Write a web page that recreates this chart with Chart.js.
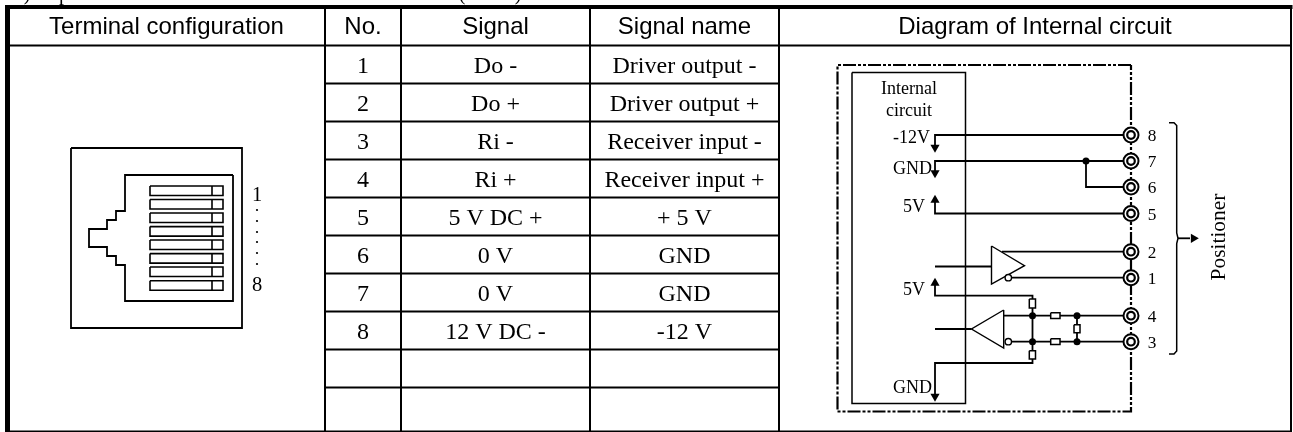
<!DOCTYPE html>
<html>
<head>
<meta charset="utf-8">
<title>Terminal configuration</title>
<script src="https://cdn.jsdelivr.net/npm/chart.js@4"></script>
<style>
  html, body { margin: 0; padding: 0; background: #fff; overflow: hidden; }
  canvas { display: block; }
</style>
</head>
<body>
<canvas id="chart" width="1293" height="432"></canvas>
<script>
// table text
const headers = ['Terminal configuration', 'No.', 'Signal', 'Signal name', 'Diagram of Internal circuit'];
const pinNumbers = ['1', '2', '3', '4', '5', '6', '7', '8'];
const signals = ['Do -', 'Do +', 'Ri -', 'Ri +', '5 V DC +', '0 V', '0 V', '12 V DC -'];
const signalNames = ['Driver output -', 'Driver output +', 'Receiver input -', 'Receiver input +', '+ 5 V', 'GND', 'GND', '-12 V'];

// table rules
const columnEdges = [10, 325, 401, 590, 779, 1291];
const rowEdges = [45.5, 83.5, 121.5, 159.5, 197.5, 235.5, 273.5, 311.5, 349.5, 387.5];

// the line above the table is cut off at the page edge, only these tails show
const cutOffTails = [[')', 27], ['p', 64], ['(', 462], [')', 518]];

// connector drawing
const connectorOuter = [[71, 148], [242, 148], [242, 328], [71, 328], [71, 148]];
const connectorInner = [[233, 175], [125, 175], [125, 211], [116, 211], [116, 220], [107, 220], [107, 229], [89, 229],
  [89, 247], [107, 247], [107, 256], [116, 256], [116, 265], [125, 265], [125, 301], [233, 301], [233, 175]];
const contactTops = [186, 199.5, 213, 226.6, 240, 253.6, 267, 280.7];
const connectorDots = [210, 221, 232, 242, 253, 264];

// circuit pins, top to bottom
const circuitPins = ['8', '7', '6', '5', '2', '1', '4', '3'];
const circuitPinY = [135, 161, 187, 213.5, 251.7, 277.7, 315.7, 341.7];

// circuit traces
const shieldBox = [[1131, 65], [837.5, 65], [837.5, 411.5], [1131, 411.5], [1131, 65]];
const internalBox = [[852, 72.5], [965.5, 72.5], [965.5, 403.5], [852, 403.5], [852, 72.5]];
const traces = [
  [[935, 148], [935, 135], [1131, 135]],
  [[935, 174], [935, 161], [1131, 161]],
  [[1086, 161], [1086, 187], [1131, 187]],
  [[935, 200], [935, 213.5], [1131, 213.5]],
  [[935, 266.5], [991, 266.5]],
  [[1002, 251.7], [1131, 251.7]],
  [[1011, 277.7], [1131, 277.7]],
  [[935, 283], [935, 295.7], [1032.5, 295.7], [1032.5, 299]],
  [[1032.5, 308], [1032.5, 350.7]],
  [[1032.5, 359], [1032.5, 363], [935, 363], [935, 397]],
  [[935, 329], [971.5, 329]],
  [[1003.5, 315.7], [1050.5, 315.7]],
  [[1060, 315.7], [1131, 315.7]],
  [[1011, 341.7], [1050.5, 341.7]],
  [[1060, 341.7], [1131, 341.7]],
  [[1077, 315.7], [1077, 324.5]],
  [[1077, 332.7], [1077, 341.7]]
];
const driverTriangle = [[991.5, 246], [1024.5, 265.7], [991.5, 284], [991.5, 246]];
const receiverTriangle = [[1003.7, 310], [971.5, 329], [1003.7, 348], [1003.7, 310]];
const resistors = [
  [1029.3, 299, 1035.5, 308],
  [1029.3, 350.7, 1035.5, 359],
  [1050.7, 312.8, 1060, 318.6],
  [1050.7, 338.8, 1060, 344.6],
  [1074, 324.7, 1080, 332.7]
];
const junctions = [[1086, 161], [1032.5, 315.7], [1032.5, 341.7], [1077, 315.7], [1077, 341.7]];
const inverters = [[1008.3, 277.7], [1008.3, 341.7]];
const arrowsDown = [[935, 147.5], [935, 173], [935, 396.5]];
const arrowsUp = [[935, 200], [935, 283]];
const arrowsRight = [[1193.5, 238.3]];
const bracket = [[1169, 122.7], [1174, 122.7], [1176.7, 125.5], [1176.7, 233], [1178, 238.3], [1176.7, 243.5], [1176.7, 351], [1174, 354], [1169, 354]];
const arrowStem = [[1178, 238.3], [1190, 238.3]];

// labels on the circuit
const circuitLabels = [
  ['Internal', 909, 94, 'center'],
  ['circuit', 909, 116, 'center'],
  ['-12V', 893, 143, 'left'],
  ['GND', 893, 174, 'left'],
  ['5V', 903, 212, 'left'],
  ['5V', 903, 295, 'left'],
  ['GND', 893, 392.7, 'left']
];

const SERIF = '"Liberation Serif"';
const SANS = '"Liberation Sans"';

const toPoints = (pts) => pts.map((p) => ({ x: p[0], y: p[1] }));
const datasets = [];

function addLine(pts, width, dash) {
  datasets.push({
    data: toPoints(pts),
    showLine: true,
    borderColor: '#000',
    borderWidth: width,
    borderDash: dash || [],
    borderJoinStyle: 'miter',
    tension: 0,
    pointRadius: 0,
    fill: false
  });
}

function addPoints(pts, style, radius, fillColor, width, rotation) {
  datasets.push({
    data: toPoints(pts),
    showLine: false,
    pointStyle: style,
    pointRadius: radius,
    pointBackgroundColor: fillColor,
    pointBorderColor: '#000',
    pointBorderWidth: width,
    pointRotation: rotation || 0
  });
}

const boxOf = (b) => [[b[0], b[1]], [b[2], b[1]], [b[2], b[3]], [b[0], b[3]], [b[0], b[1]]];

// table frame
addLine([[7.5, 5], [7.5, 432]], 5);
addLine([[5, 7], [1292.5, 7]], 4);
addLine([[10, 431.2], [1292, 431.2]], 1.6);
addLine([[1291, 5], [1291, 432]], 2);
addLine([[10, rowEdges[0]], [1291, rowEdges[0]]], 2);
columnEdges.slice(1, 5).forEach((x) => addLine([[x, 7], [x, 431]], 2));
rowEdges.slice(1).forEach((y) => addLine([[columnEdges[1], y], [columnEdges[4], y]], 2));

// connector
addLine(connectorOuter, 1.8);
addLine(connectorInner, 1.8);
contactTops.forEach((y) => {
  addLine(boxOf([150, y, 223, y + 9.5]), 1.6);
  addLine([[212, y], [212, y + 9.5]], 1.6);
});
addPoints(connectorDots.map((y) => [257, y]), 'circle', 1.1, '#000', 0);

// circuit
addLine(shieldBox, 2.2, [13, 2, 3, 2, 3, 2]);
addLine(internalBox, 1.5);
traces.forEach((t) => addLine(t, 1.8));
addLine(driverTriangle, 1.4);
addLine(receiverTriangle, 1.4);
resistors.forEach((r) => addLine(boxOf(r), 1.5));
addLine(bracket, 1.5);
addLine(arrowStem, 1.8);
addPoints(arrowsDown, 'triangle', 5.3, '#000', 0, 180);
addPoints(arrowsUp, 'triangle', 5.3, '#000', 0, 0);
addPoints(arrowsRight, 'triangle', 5.3, '#000', 0, 90);
addPoints(junctions, 'circle', 3.5, '#000', 0);
addPoints(inverters, 'circle', 3.2, '#fff', 1.4);
addPoints(circuitPinY.map((y) => [1131, y]), 'circle', 7.5, '#fff', 2);
addPoints(circuitPinY.map((y) => [1131, y]), 'circle', 3.8, '#fff', 2.2);

// chart.js draws the first dataset last
datasets.reverse();

const tableText = {
  id: 'tableText',
  afterDatasetsDraw(chart) {
    const { ctx, scales } = chart;
    const put = (text, x, y, font, align) => {
      ctx.font = font;
      ctx.textAlign = align || 'center';
      ctx.fillText(text, scales.x.getPixelForValue(x), scales.y.getPixelForValue(y));
    };
    ctx.save();
    ctx.fillStyle = '#000';
    ctx.textBaseline = 'alphabetic';

    cutOffTails.forEach((t) => put(t[0], t[1], 0, '20px ' + SERIF));

    const centers = columnEdges.slice(0, -1).map((x, i) => (x + columnEdges[i + 1]) / 2);
    headers.forEach((h, i) => put(h, centers[i] - (i === 0 ? 1 : 0), 34.3, '24px ' + SANS));
    pinNumbers.forEach((n, i) => {
      const y = rowEdges[i] + 27.5;
      put(n, centers[1], y, '24px ' + SERIF);
      put(signals[i], centers[2], y, '24px ' + SERIF);
      put(signalNames[i], centers[3], y, '24px ' + SERIF);
    });

    put('1', 257, 200.7, '20.5px ' + SERIF);
    put('8', 257, 290.7, '20.5px ' + SERIF);

    circuitLabels.forEach((l) => put(l[0], l[1], l[2], '18px ' + SERIF, l[3]));
    circuitPins.forEach((p, i) => put(p, 1152, circuitPinY[i] + 6, '17.3px ' + SERIF));

    ctx.translate(scales.x.getPixelForValue(1225), scales.y.getPixelForValue(237));
    ctx.rotate(-Math.PI / 2);
    ctx.font = '21.4px ' + SERIF;
    ctx.textAlign = 'center';
    ctx.fillText('Positioner', 0, 0);
    ctx.restore();
  }
};

new Chart(document.getElementById('chart').getContext('2d'), {
  type: 'scatter',
  data: { datasets },
  options: {
    responsive: false,
    animation: false,
    layout: { padding: 0, autoPadding: false },
    plugins: { legend: { display: false }, tooltip: { enabled: false } },
    scales: {
      x: { type: 'linear', display: false, min: 0, max: 1293 },
      y: { type: 'linear', display: false, min: 0, max: 432, reverse: true }
    }
  },
  plugins: [tableText]
});
</script>
</body>
</html>
